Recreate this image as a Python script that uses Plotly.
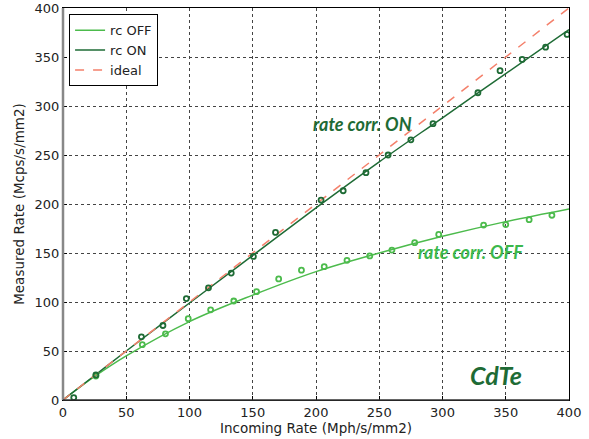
import plotly.graph_objects as go

# data
on_x = [8.5, 26, 62, 79, 97.5, 115, 133, 150.5, 168, 204, 221.5, 239.5, 257, 275, 292.5, 328, 345.5, 363, 381.5, 398.5]
on_y = [2.5, 25.5, 64.5, 76, 103.5, 114.5, 129.5, 146.5, 171, 204, 213.5, 232, 250, 265.5, 282, 313.5, 336, 347.5, 360, 373]

off_x = [26, 62.7, 81, 99, 116.7, 135, 153, 170.5, 188.5, 206.5, 224.5, 242.5, 260, 278, 297, 332.5, 350, 368.5, 386.5]
off_y = [24.5, 56.5, 67.5, 83, 92, 101, 110.5, 123.5, 132.5, 136, 142.5, 147, 153, 160.5, 169, 178.5, 179, 184, 188.5]

fit_x = [0, 25, 50, 100, 150, 200, 250, 300, 350, 400]
fit_on_y = [0, 25, 50, 99, 147.5, 196, 243, 288, 333, 378]
fit_off_y = [0, 24, 45, 80, 107, 131, 150, 167, 182, 195]

ideal_x = [0, 400]
ideal_y = [0, 400]

C_OFF = "#4cbb4c"
C_ON = "#1e6b35"
C_IDEAL = "#f4806b"

fig = go.Figure()
fig.add_trace(go.Scatter(x=fit_x, y=fit_off_y, mode="lines", name="rc OFF",
                         line=dict(color=C_OFF, width=1.5), line_shape="spline"))
fig.add_trace(go.Scatter(x=fit_x, y=fit_on_y, mode="lines", name="rc ON",
                         line=dict(color=C_ON, width=1.5), line_shape="spline"))
fig.add_trace(go.Scatter(x=ideal_x, y=ideal_y, mode="lines", name="ideal",
                         line=dict(color=C_IDEAL, width=1.5, dash="dash")))
fig.add_trace(go.Scatter(x=off_x, y=off_y, mode="markers", showlegend=False,
                         marker=dict(symbol="circle-open", size=5, color=C_OFF, line=dict(width=1.8, color=C_OFF))))
fig.add_trace(go.Scatter(x=on_x, y=on_y, mode="markers", showlegend=False,
                         marker=dict(symbol="circle-open", size=5, color=C_ON, line=dict(width=1.8, color=C_ON))))

ann_font = "Lato"
fig.add_annotation(x=236.7, y=282, text="<b><i>rate corr. ON</i></b>", showarrow=False,
                   font=dict(family=ann_font, size=18, color=C_ON))
fig.add_annotation(x=322, y=151, text="<b><i>rate corr. OFF</i></b>", showarrow=False,
                   font=dict(family=ann_font, size=18, color="#3cb84c"))
fig.add_annotation(x=342.6, y=25.5, text="<b><i>CdTe</i></b>", showarrow=False,
                   font=dict(family=ann_font, size=25, color=C_ON))

axis_common = dict(
    range=[0, 400], dtick=50, showgrid=True, gridcolor="#444", griddash="dot", gridwidth=1,
    zeroline=False, showline=True, linecolor="black", linewidth=1, mirror=True,
    ticks="inside", ticklen=4, tickcolor="black", automargin=False,
    tickfont=dict(family="DejaVu Sans", size=13, color="#222"),
)
fig.update_xaxes(**axis_common, title=dict(text="Incoming Rate (Mph/s/mm2)", standoff=4,
                 font=dict(family="DejaVu Sans", size=13.5, color="#222")))
fig.update_yaxes(**axis_common, title=dict(text="Measured Rate (Mcps/s/mm2)", standoff=6,
                 font=dict(family="DejaVu Sans", size=13.5, color="#222")))

# thicker grey left/bottom spines as in the reference
fig.add_shape(type="line", xref="paper", yref="paper", x0=0, x1=0, y0=0, y1=1,
              line=dict(color="#888", width=2.5))
fig.add_shape(type="line", xref="paper", yref="paper", x0=0, x1=1, y0=0, y1=0,
              line=dict(color="#333", width=1.5))

fig.update_layout(
    width=589, height=439,
    margin=dict(l=63, r=20, t=8, b=39),
    paper_bgcolor="white", plot_bgcolor="white",
    showlegend=True,
    legend=dict(x=0.012, y=0.984, xanchor="left", yanchor="top",
                bgcolor="white", bordercolor="black", borderwidth=1,
                font=dict(family="DejaVu Sans", size=13, color="#222"),
                tracegroupgap=0, itemwidth=30),
)

fig.write_html("out.html")
